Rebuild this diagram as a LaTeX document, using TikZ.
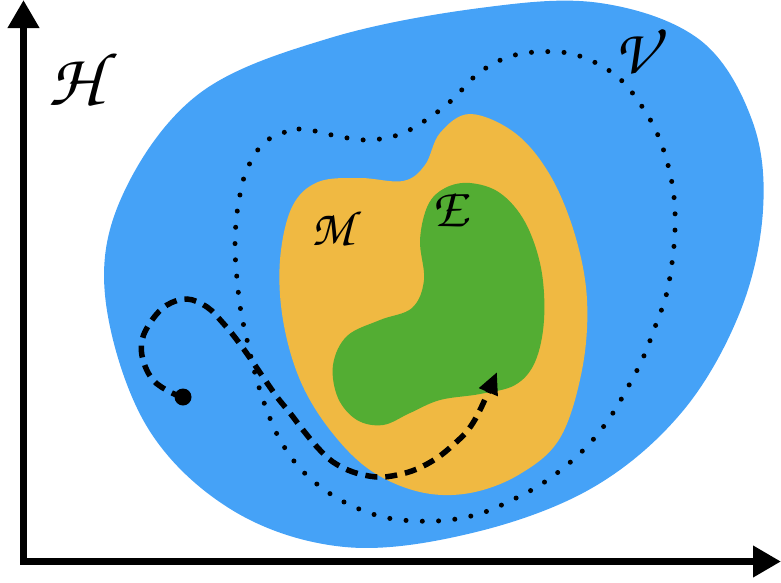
\documentclass[tikz,border=0pt]{standalone}
\usepackage[T1]{fontenc}
\usetikzlibrary{arrows.meta}
\definecolor{vblue}{RGB}{69,162,247}
\definecolor{morange}{RGB}{240,185,66}
\definecolor{egreen}{RGB}{83,173,51}
\newcommand{\chancery}[1]{{\fontencoding{T1}\fontfamily{pzc}\fontseries{mb}\fontshape{it}\selectfont #1}}
\tikzset{
  region/.style={draw=none},
  setlabel/.style={inner sep=0pt, text=black},
  axisline/.style={line width=7.5pt, line join=miter, {Triangle[width=30pt,length=28pt]}-{Triangle[width=30pt,length=28pt]}},
  dotline/.style={line width=5pt, line cap=round, dash pattern=on 0pt off 16.3pt},
  dashline/.style={line width=5.5pt, dash pattern=on 12pt off 8pt, -{Triangle[width=19pt,length=22pt]}}
}
\begin{document}
\begin{tikzpicture}[x=1pt,y=-1pt]
\useasboundingbox (0,0) rectangle (781,582);
% V region
\fill[vblue] plot[smooth cycle, tension=0.6] coordinates {
 (105,295) (124,192) (200,93) (330,38) (480,8) (600,3) (700,40)
 (752,120) (763,210) (740,312) (682,412) (592,488) (472,533)
 (345,547) (232,510) (146,425)};
% M region
\fill[morange] plot[smooth cycle, tension=0.6] coordinates {
 (470,114) (515,133) (550,175) (575,235) (587,300) (582,370) (560,438)
 (520,474) (470,493) (420,492) (370,470) (330,430) (300,380) (283,320)
 (280,260) (292,207) (318,182) (360,178) (403,181) (425,165) (440,133)};
% E region
\fill[egreen] plot[smooth cycle, tension=0.6] coordinates {
 (470,183) (500,193) (525,222) (541,268) (544,320) (535,362) (515,385)
 (480,394) (440,400) (410,413) (383,425) (357,420) (338,398) (333,365)
 (347,336) (380,320) (412,308) (424,280) (420,240) (428,205) (445,188)};
% dotted closed curve
\draw[dotline] plot[smooth cycle, tension=0.6] coordinates {
 (269,139) (299,129) (332,135) (365,140) (398,135) (426,120) (452,100)
 (480,72) (515,55) (560,52) (592,61) (620,79) (641,105) (657,133)
 (668,165) (674,197) (675,230) (672,263) (666,296) (655,327) (643,358)
 (628,387) (611,416) (591,442) (567,465) (540,485) (512,500) (482,513)
 (449,520) (416,521) (383,517) (350,505) (322,488) (298,466) (279,438)
 (266,408) (256,377) (248,344) (241,312) (237,279) (235,246) (237,213)
 (243,181) (249,165) (257,151)};
% axes
\coordinate (ytop) at (23.5,0);
\coordinate (origin) at (23.5,561.5);
\coordinate (xend) at (781,561.5);
\draw[axisline] (ytop) -- (origin) -- (xend);
% path
\coordinate (start) at (183,397);
\coordinate (goal) at (497,372);
\draw[dashline] plot[smooth, tension=0.6] coordinates {
 (start) (170,392) (153,380) (143,360) (142,340) (152,320) (167,305)
 (187,299) (207,307) (223,323) (237,340) (250,358) (263,377) (277,397)
 (290,413) (303,430) (318,448) (333,462) (353,472) (377,477) (397,475)
 (417,469) (437,458) (453,445) (468,430) (480,410) (goal)};
\fill (start) circle (8.5pt);
% labels
\node[setlabel, font=\fontsize{76}{76}\selectfont] (H) at (74,79) {\chancery{H}};
\node[setlabel, font=\fontsize{64}{64}\selectfont] (V) at (635,51) {\chancery{V}};
\node[setlabel, font=\fontsize{50}{50}\selectfont] (M) at (332,228) {\chancery{M}};
\node[setlabel, font=\fontsize{56}{56}\selectfont] (E) at (450,210) {\chancery{E}};
\end{tikzpicture}
\end{document}
